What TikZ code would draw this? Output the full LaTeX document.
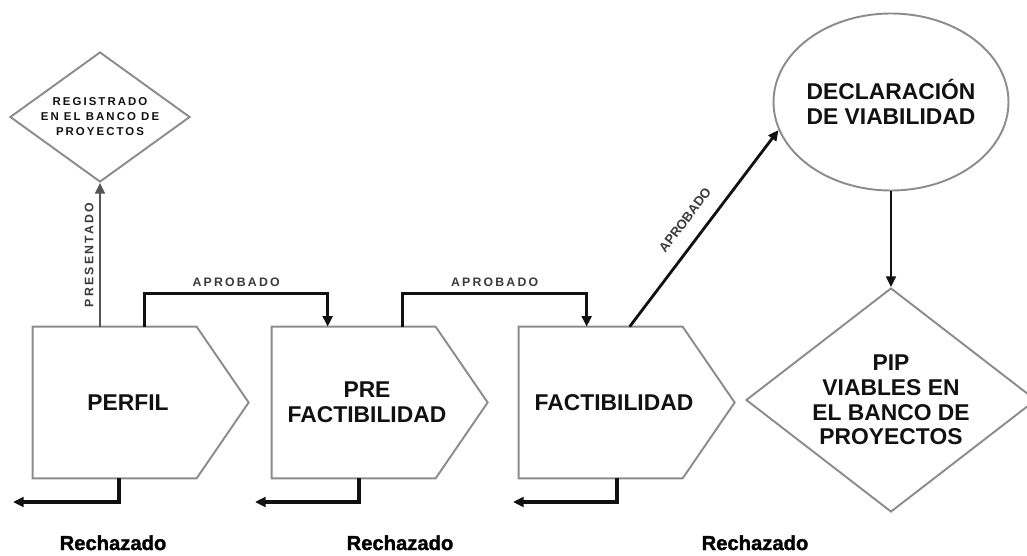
\documentclass[tikz,border=0pt]{standalone}
\usepackage{xcolor}
\usepackage{fontspec}
\setmainfont{Liberation Sans}
\newfontfamily\spacedfont[LetterSpace=18]{Liberation Sans}
\newfontfamily\heavyfont[UprightFont={* Bold},FakeBold=1.5]{Liberation Sans}
\usepackage{tikz}
\usetikzlibrary{arrows.meta,positioning,shapes.geometric,calc}
\definecolor{ink}{HTML}{111111}
\definecolor{line}{HTML}{8C8C8C}
\definecolor{muted}{HTML}{3A3A3A}
\definecolor{stem}{HTML}{555555}
\tikzset{
  stage/.style={rectangle,minimum width=3.8cm,minimum height=3.02cm,inner sep=0pt,align=center,text=ink,font=\fontsize{13}{14}\selectfont\bfseries},
  shell/.style={draw=line,line width=1.1pt},
  gate/.style={diamond,draw=line,line width=1.1pt,inner sep=0pt,align=center,text=ink},
  oval/.style={ellipse,draw=line,line width=1.1pt,inner sep=0pt,inner xsep=-1.5mm,align=center,text=ink,font=\fontsize{13}{14}\selectfont\bfseries},
  flow/.style={-{Triangle[length=6pt,width=5.5pt]},line width=2pt,color=ink},
  back/.style={flow,line width=2.2pt},
  lbl/.style={font=\spacedfont\fontsize{7}{8}\selectfont\bfseries,text=muted,inner sep=1pt},
  verdict/.style={font=\heavyfont\fontsize{11.5}{13}\selectfont,text=black,anchor=base,inner sep=1pt},
}
\begin{document}
\begin{tikzpicture}
  \useasboundingbox (0,0) rectangle (20.54,11.1);
  \clip (0,0) rectangle (20.54,11.1);
  % stages
  \node[stage] (perfil) at (2.56,3.05) {PERFIL};
  \node[stage] (prefact) at (7.34,3.05) {PRE\\FACTIBILIDAD};
  \node[stage] (fact) at (12.28,3.05) {FACTIBILIDAD};
  \foreach \n in {perfil,prefact,fact}
    \draw[shell] (\n.north west) -- ++(3.28,0) -- ([xshift=4.32cm]\n.west)
      -- ([xshift=3.28cm]\n.south west) -- (\n.south west) -- cycle;
  % end points
  \node[gate,minimum width=3.6cm,minimum height=2.6cm,aspect=1.385,
    font=\spacedfont\fontsize{6.5}{8.5}\selectfont\bfseries] (registro) at (2.0,8.76)
    {REGISTRADO\\EN EL BANCO DE\\PROYECTOS};
  \node[oval,minimum width=4.7cm,minimum height=3.54cm] (decl) at (17.82,9.06)
    {DECLARACIÓN\\DE VIABILIDAD};
  \node[gate,minimum width=5.8cm,minimum height=4.48cm,aspect=1.29,
    font=\fontsize{13}{14}\selectfont\bfseries] (pip) at (17.82,3.1)
    {PIP\\VIABLES EN\\EL BANCO DE\\PROYECTOS};
  % approved paths
  \draw[flow,line width=1.3pt,color=stem] (registro.south |- perfil.north) -- node[lbl,midway,above=2pt,sloped] (ok0) {PRESENTADO} (registro.south);
  \draw[flow] ([xshift=2.24cm]perfil.north west) -- ++(0,0.66)
    -| node[lbl,pos=0.25,above=2pt] (ok1) {APROBADO} ([xshift=1.12cm]prefact.north west);
  \draw[flow] ([xshift=2.62cm]prefact.north west) -- ++(0,0.66)
    -| node[lbl,pos=0.25,above=2pt] (ok2) {APROBADO} ([xshift=1.36cm]fact.north west);
  \draw[flow,line width=1.6pt] ([xshift=2.22cm]fact.north west) -- node[lbl,font=\fontsize{7.5}{8}\selectfont\bfseries,pos=0.48,above=7pt,sloped] (ok3) {APROBADO} (decl.194);
  \draw[flow,line width=1.4pt] (decl.south) -- (pip.north);
  % rejected paths
  \coordinate (rej1) at (0.26,1.06);
  \coordinate (rej2) at (5.1,1.06);
  \coordinate (rej3) at (10.26,1.06);
  \draw[back] ([xshift=1.72cm]perfil.south west) |- (rej1);
  \draw[back] ([xshift=1.74cm]prefact.south west) |- (rej2);
  \draw[back] ([xshift=1.96cm]fact.south west) |- (rej3);
  \node[verdict] (rz1) at (2.26,0.1) {Rechazado};
  \node[verdict] (rz2) at (8.0,0.1) {Rechazado};
  \node[verdict] (rz3) at (15.1,0.1) {Rechazado};
\end{tikzpicture}
\end{document}
